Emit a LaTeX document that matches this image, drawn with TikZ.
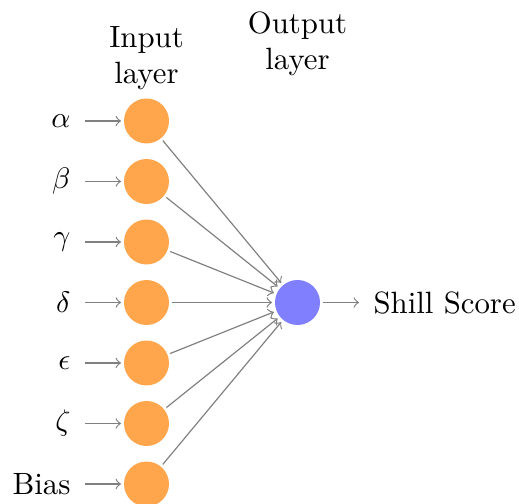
\documentclass[tikz,border=0pt]{standalone}
\begin{document}
\begin{tikzpicture}[x=0.3378pt,y=-0.3378pt,
  font=\fontsize{10.4}{12}\selectfont,
  neuron/.style={circle,minimum size=15.2pt,inner sep=0pt,outer sep=1pt},
  inneuron/.style={neuron,fill=orange!70},
  outneuron/.style={neuron,fill=blue!50},
  conn/.style={->,draw=black!50},
  lab/.style={inner sep=0pt}]
\useasboundingbox (0,0) rectangle (519,504);
\foreach \name/\txt [count=\i] in {a/$\alpha$,b/$\beta$,c/$\gamma$,d/$\delta$,e/$\epsilon$,f/$\zeta$,g/Bias}{
  \node[inneuron] (I\i) at (146.5,{121+60.5*(\i-1)}) {};
  \node[lab,anchor=east] (L\i) at (71,{121+60.5*(\i-1)}) {\txt};
  \coordinate (S\i) at (85,{121+60.5*(\i-1)});
  \draw[conn] (S\i) -- (I\i);
}
\node[outneuron] (O) at (297.5,302.5) {};
\foreach \i in {1,...,7}{
  \draw[conn] (I\i) -- (O);
}
\coordinate (E) at (359,302.5);
\draw[conn] (O) -- (E);
\node[lab,anchor=west] (out) at (373,302.5) {Shill Score};
\node[lab,anchor=north,align=center] (inl) at (146.5,26) {Input\\layer};
\node[lab,anchor=north,align=center] (outl) at (297.5,11.5) {Output\\layer};
\end{tikzpicture}
\end{document}
